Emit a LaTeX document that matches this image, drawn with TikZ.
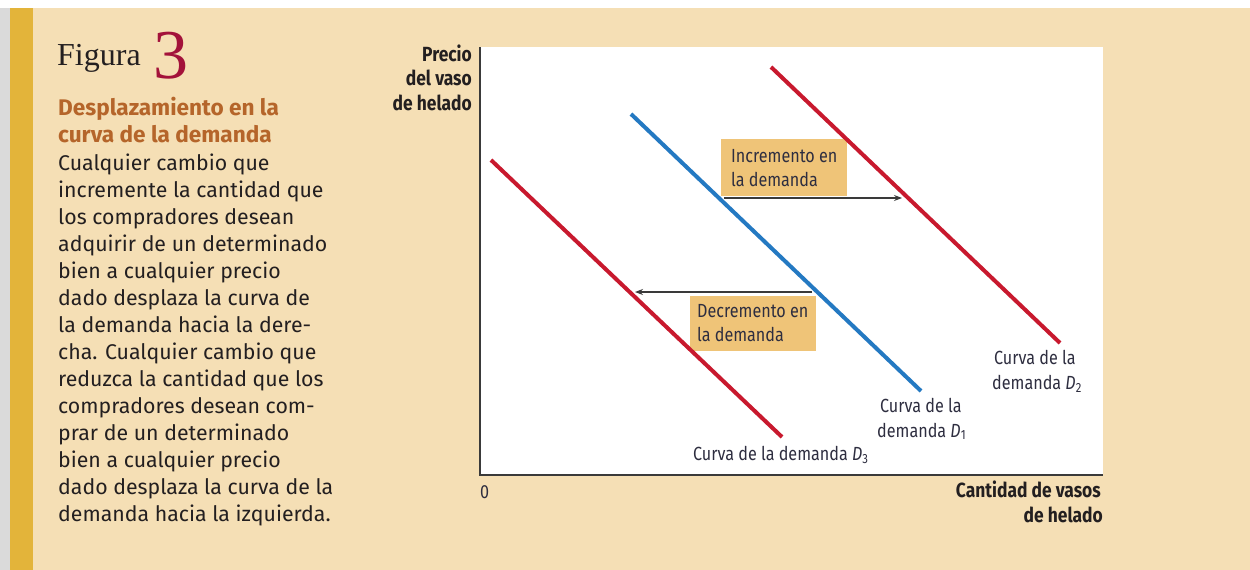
\documentclass[tikz,border=0pt]{standalone}
\usepackage{fontspec}
\setmainfont{Fira Sans}
\newfontfamily\serifF{Liberation Serif}
\newfontfamily\condF[FakeStretch=0.85]{Fira Sans}
\usetikzlibrary{arrows.meta}
\definecolor{beige}{HTML}{F5DFB5}
\definecolor{gold}{HTML}{E3B43A}
\definecolor{grayedge}{HTML}{DADADA}
\definecolor{boxfill}{HTML}{EFC478}
\definecolor{redc}{HTML}{C8192E}
\definecolor{bluec}{HTML}{2479C2}
\definecolor{titlec}{HTML}{B5652A}
\definecolor{numc}{HTML}{A3123A}
\definecolor{txt}{HTML}{231F20}
\definecolor{lab}{HTML}{2E2E40}
\definecolor{axisc}{HTML}{3A3A3A}
\begin{document}
\begin{tikzpicture}[x=1pt,y=-1pt,
  body/.style={anchor=base west, inner sep=0pt, font=\fontsize{21.3}{27}\selectfont, text=txt},
  ttl/.style={anchor=base west, inner sep=0pt, font=\fontsize{22.6}{27}\selectfont\bfseries, text=titlec},
  axlab/.style={inner sep=0pt, font=\condF\bfseries\fontsize{20.5}{24}\selectfont, text=txt},
  glab/.style={inner sep=0pt, font=\condF\fontsize{19}{24}\selectfont, text=lab},
  shiftbox/.style={fill=boxfill, draw=none, anchor=north west, inner sep=0pt},
  curve/.style={line width=4pt},
  arr/.style={draw=axisc, line width=1.1pt, -{Stealth[length=8pt,width=6pt]}},
]
\useasboundingbox (0,0) rectangle (1250,570);
\fill[white] (0,0) rectangle (1250,570);
\fill[grayedge] (0,8) rectangle (10,570);
\fill[gold] (10,8) rectangle (33,570);
\fill[beige] (33,8) rectangle (1250,570);
\fill[white] (480,47) rectangle (1103,475);

% left panel
\node[anchor=base west, inner sep=0pt, font=\serifF\fontsize{32}{32}\selectfont, text=txt] (fig) at (57,65) {Figura};
\node[anchor=base west, inner sep=0pt, font=\serifF\fontsize{70}{70}\selectfont, text=numc] (num) at (153,78) {3};
\node[ttl] (t1) at (58,115) {Desplazamiento en la};
\node[ttl] (t2) at (58,142) {curva de la demanda};
\foreach \s [count=\i from 0] in {Cualquier cambio que,incremente la cantidad que,los compradores desean,adquirir de un determinado,bien a cualquier precio,dado desplaza la curva de,la demanda hacia la dere-,cha. Cualquier cambio que,reduzca la cantidad que los,compradores desean com-,prar de un determinado,bien a cualquier precio,dado desplaza la curva de la,demanda hacia la izquierda.}
  \node[body] (b\i) at (58,170+27*\i) {\s};

% axes
\coordinate (ytop) at (480,47);
\coordinate (O) at (480,475);
\coordinate (xend) at (1103,475);
\draw[axisc, line width=2pt] (ytop) -- (O) -- (xend);
\node[axlab, anchor=base east] (y1) at (472,61) {Precio};
\node[axlab, anchor=base east] (y2) at (472,85) {del vaso};
\node[axlab, anchor=base east] (y3) at (472,110) {de helado};
\node[glab, anchor=base west] (zero) at (480,498) {0};
\node[axlab, anchor=base east] (x1) at (1101,497) {Cantidad de vasos};
\node[axlab, anchor=base east] (x2) at (1103,522) {de helado};

% shift boxes
\node[shiftbox, minimum width=126pt, minimum height=57pt] (incbox) at (721,139) {};
\node[glab, anchor=base west] (inc1) at (731,162) {Incremento en};
\node[glab, anchor=base west] (inc2) at (731,186) {la demanda};
\node[shiftbox, minimum width=126pt, minimum height=55pt] (decbox) at (690,296) {};
\node[glab, anchor=base west] (dec1) at (697,317) {Decremento en};
\node[glab, anchor=base west] (dec2) at (697,341) {la demanda};

% curves
\coordinate (D3a) at (491,160); \coordinate (D3b) at (782,437);
\coordinate (D1a) at (631,114); \coordinate (D1b) at (921,391);
\coordinate (D2a) at (771,67);  \coordinate (D2b) at (1060,343);
\draw[curve, redc] (D3a) -- (D3b);
\draw[curve, bluec] (D1a) -- (D1b);
\draw[curve, redc] (D2a) -- (D2b);

% arrows
\coordinate (incS) at (724,198); \coordinate (incE) at (902,198);
\coordinate (decS) at (812,292); \coordinate (decE) at (635,292);
\draw[arr] (incS) -- (incE);
\draw[arr] (decS) -- (decE);

% curve labels
\node[glab, anchor=base west] (l2a) at (994,364) {Curva de la};
\node[glab, anchor=base west] (l2b) at (992,389) {demanda \textit{D}\textsubscript{2}};
\node[glab, anchor=base west] (l1a) at (880,412) {Curva de la};
\node[glab, anchor=base west] (l1b) at (877,437) {demanda \textit{D}\textsubscript{1}};
\node[glab, anchor=base west] (l3) at (693,460) {Curva de la demanda \textit{D}\textsubscript{3}};
\end{tikzpicture}
\end{document}
